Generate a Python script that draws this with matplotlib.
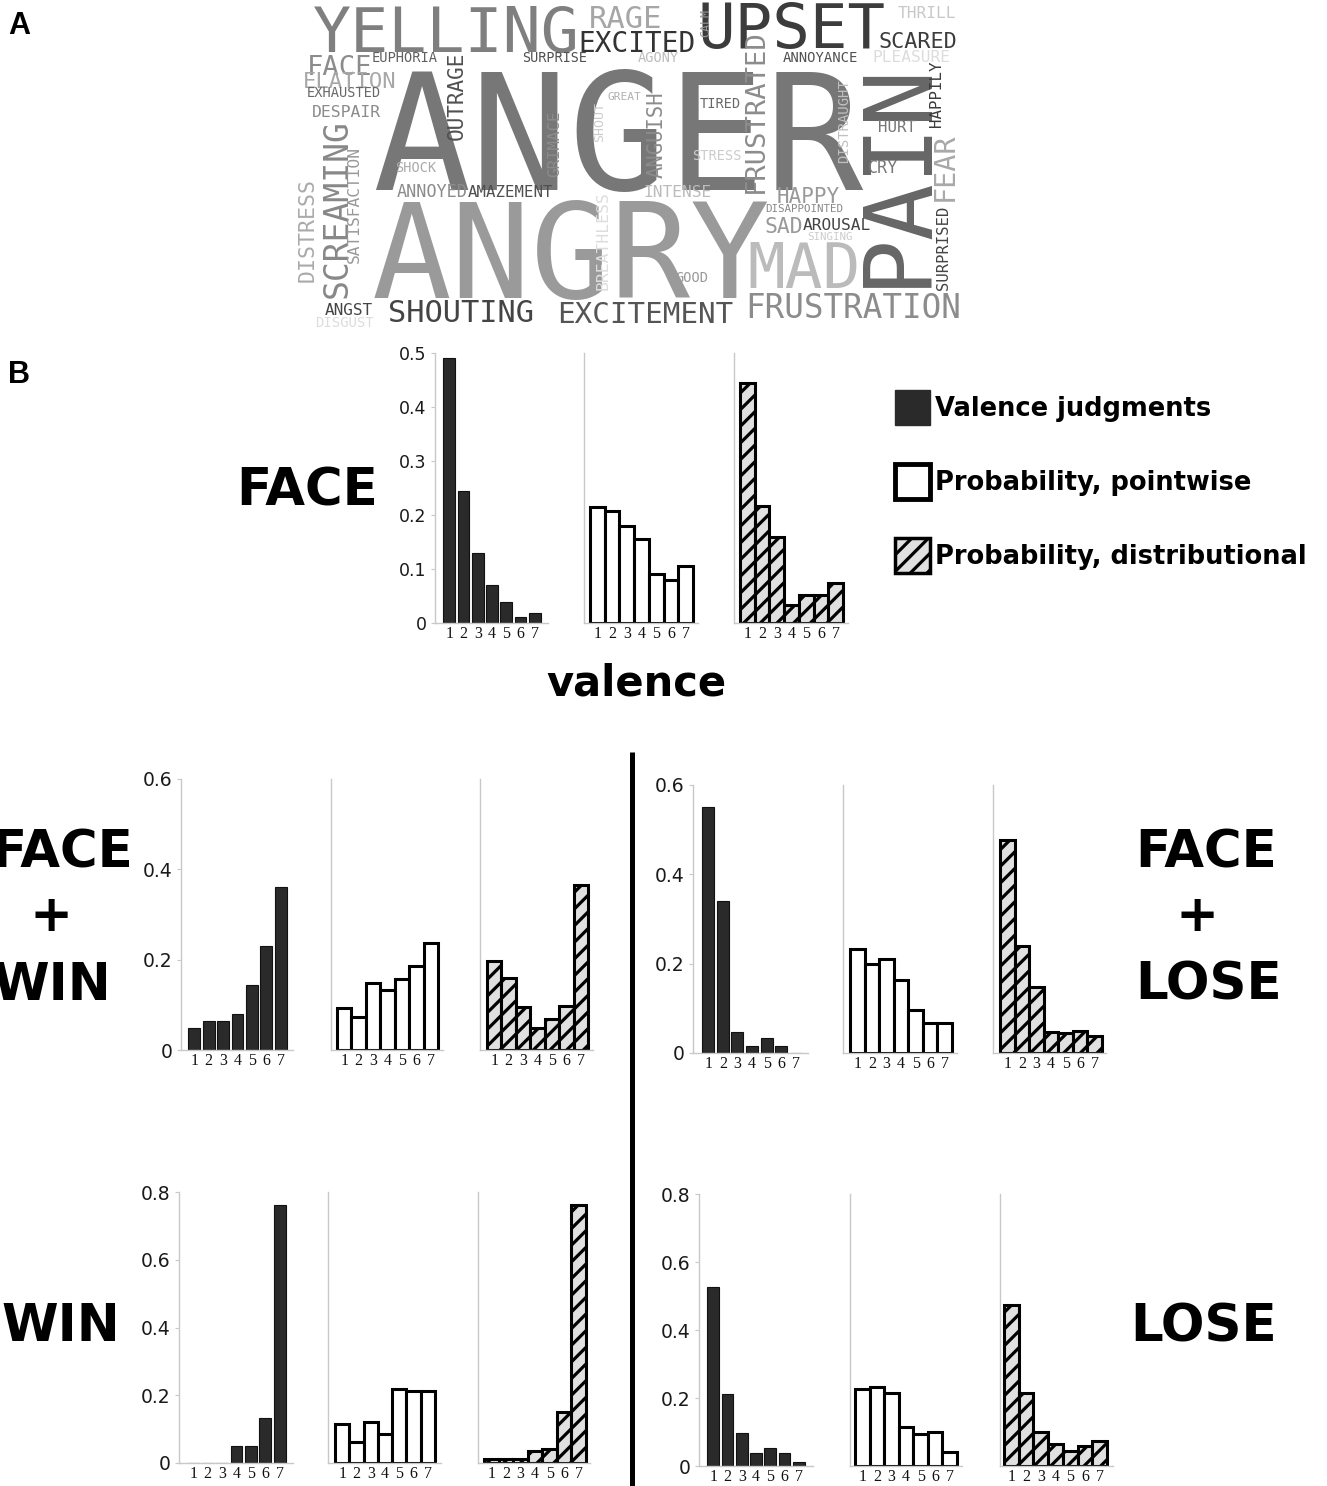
import numpy as np
import matplotlib
matplotlib.use('Agg')
import matplotlib.pyplot as plt
from matplotlib.patches import Patch

# ---- data -------------------------------------------------------------
VALENCE = [1, 2, 3, 4, 5, 6, 7]

FACE_JUDG = [0.490, 0.244, 0.130, 0.070, 0.038, 0.012, 0.018]
FACE_POINT = [0.215, 0.207, 0.179, 0.156, 0.090, 0.079, 0.106]
FACE_DIST = [0.444, 0.216, 0.160, 0.034, 0.051, 0.051, 0.074]

FW_JUDG = [0.048, 0.064, 0.064, 0.080, 0.145, 0.230, 0.360]
FW_POINT = [0.092, 0.074, 0.148, 0.133, 0.157, 0.185, 0.238]
FW_DIST = [0.196, 0.159, 0.096, 0.049, 0.069, 0.098, 0.365]

FL_JUDG = [0.550, 0.341, 0.048, 0.016, 0.033, 0.016, 0.0]
FL_POINT = [0.233, 0.200, 0.211, 0.163, 0.097, 0.067, 0.067]
FL_DIST = [0.476, 0.239, 0.148, 0.046, 0.045, 0.050, 0.039]

WIN_JUDG = [0.0, 0.0, 0.0, 0.049, 0.049, 0.134, 0.763]
WIN_POINT = [0.116, 0.062, 0.121, 0.087, 0.218, 0.212, 0.212]
WIN_DIST = [0.013, 0.013, 0.013, 0.035, 0.042, 0.151, 0.763]

LOSE_JUDG = [0.526, 0.211, 0.097, 0.039, 0.054, 0.039, 0.012]
LOSE_POINT = [0.226, 0.231, 0.216, 0.115, 0.093, 0.100, 0.041]
LOSE_DIST = [0.474, 0.216, 0.100, 0.064, 0.044, 0.058, 0.073]

SERIES_NAMES = ['Valence judgments', 'Probability, pointwise',
                'Probability, distributional']

# word cloud words
WORDS = ['YELLING', 'RAGE', 'UPSET', 'THRILL', 'EXCITED', 'CALM', 'SCARED',
         'FACE', 'EUPHORIA', 'SURPRISE', 'AGONY', 'ANNOYANCE', 'PLEASURE',
         'ELATION', 'EXHAUSTED', 'ANGER', 'OUTRAGE', 'GREAT', 'SHOUT',
         'ANGUISH', 'TIRED', 'FRUSTRATED', 'DISTRAUGHT', 'PAIN', 'HURT',
         'HAPPILY', 'CRY', 'FEAR', 'DESPAIR', 'SCREAMING', 'SATISFACTION',
         'DISTRESS', 'SHOCK', 'GRIMACE', 'STRESS', 'ANNOYED', 'AMAZEMENT',
         'INTENSE', 'ANGRY', 'BREATHLESS', 'HAPPY', 'DISAPPOINTED', 'SAD',
         'AROUSAL', 'SINGING', 'SURPRISED', 'MAD', 'GOOD', 'ANGST', 'DISGUST',
         'SHOUTING', 'EXCITEMENT', 'FRUSTRATION']

# ---- layout (pixels of the 1327x1486 canvas) --------------------------
W, H = 1327, 1486
DPI = 100

# word boxes: x0, y0, x1, y1, vertical?
CLOUD_BOXES = [
    (313, 2, 575, 52, 0), (589, 7, 660, 28, 0), (697, 3, 880, 48, 0),
    (898, 7, 955, 18, 0), (578, 30, 693, 52, 0), (705, 10, 713, 37, 1),
    (878, 33, 955, 48, 0), (307, 52, 370, 75, 0), (372, 50, 437, 62, 0),
    (522, 50, 586, 62, 0), (638, 50, 678, 62, 0), (783, 49, 857, 62, 0),
    (873, 49, 950, 62, 0), (303, 72, 395, 88, 0), (307, 87, 380, 97, 0),
    (372, 67, 850, 190, 0), (450, 53, 467, 140, 1), (607, 92, 640, 100, 0),
    (596, 103, 607, 142, 1), (650, 93, 667, 178, 1), (700, 97, 740, 108, 0),
    (745, 32, 767, 193, 1), (843, 80, 852, 163, 1), (860, 67, 928, 287, 1),
    (878, 120, 915, 132, 0), (933, 62, 945, 127, 1), (868, 160, 897, 173, 0),
    (936, 135, 957, 201, 1), (312, 105, 380, 117, 0), (326, 122, 351, 298, 1),
    (352, 147, 363, 263, 1), (305, 180, 318, 282, 1), (395, 162, 435, 172, 0),
    (550, 112, 563, 177, 1), (692, 149, 740, 160, 0), (397, 187, 467, 197, 0),
    (468, 186, 552, 197, 0), (643, 185, 710, 197, 0), (372, 205, 760, 298, 0),
    (598, 193, 612, 290, 1), (777, 185, 838, 203, 0), (765, 203, 843, 212, 0),
    (765, 218, 802, 233, 0), (803, 218, 870, 230, 0), (807, 233, 852, 240, 0),
    (938, 207, 952, 290, 1), (747, 247, 855, 288, 0), (675, 270, 707, 282, 0),
    (325, 302, 372, 315, 0), (315, 315, 373, 327, 0), (388, 300, 532, 322, 0),
    (557, 300, 731, 323, 0), (745, 293, 958, 318, 0),
]
CLOUD_GRAYS = [
    '#7f7f7f', '#a6a6a6', '#3c3c3c', '#c8c8c8', '#333333', '#999999',
    '#3c3c3c', '#8c8c8c', '#606060', '#505050', '#bdbdbd', '#505050',
    '#dddddd', '#a8a8a8', '#686868', '#777777', '#505050', '#b0b0b0',
    '#cccccc', '#8c8c8c', '#686868', '#8c8c8c', '#c0c0c0', '#666666',
    '#777777', '#3c3c3c', '#777777', '#a8a8a8', '#8c8c8c', '#888888',
    '#999999', '#aaaaaa', '#aaaaaa', '#8c8c8c', '#cccccc', '#8c8c8c',
    '#505050', '#bbbbbb', '#9a9a9a', '#dddddd', '#999999', '#888888',
    '#999999', '#444444', '#cccccc', '#444444', '#bbbbbb', '#999999',
    '#444444', '#dddddd', '#444444', '#555555', '#8c8c8c',
]

# rows of bar panels: zero line y, top y, top value, tick step,
# and per panel (axis x, bars start, bars end, axis end)
ROWS = [
    dict(data=(FACE_JUDG, FACE_POINT, FACE_DIST), y0=623, ytop=353, ymax=0.5,
         step=0.1, ysize=12.5,
         panels=[(435, 442, 542, 548), (584, 590, 693, 698), (734, 740, 843, 848)]),
    dict(data=(FW_JUDG, FW_POINT, FW_DIST), y0=1050, ytop=779, ymax=0.6,
         step=0.2, ysize=13.5,
         panels=[(181, 187, 288, 293), (331, 337, 438, 443), (480, 487, 588, 593)]),
    dict(data=(FL_JUDG, FL_POINT, FL_DIST), y0=1053, ytop=785, ymax=0.6,
         step=0.2, ysize=13.5,
         panels=[(693, 701, 803, 808), (843, 850, 952, 957), (993, 1000, 1102, 1106)]),
    dict(data=(WIN_JUDG, WIN_POINT, WIN_DIST), y0=1463, ytop=1192, ymax=0.8,
         step=0.2, ysize=13.5,
         panels=[(179, 186, 287, 293), (328, 335, 435, 441), (478, 484, 586, 590)]),
    dict(data=(LOSE_JUDG, LOSE_POINT, LOSE_DIST), y0=1466, ytop=1194, ymax=0.8,
         step=0.2, ysize=13.5,
         panels=[(699, 706, 806, 813), (850, 855, 957, 962), (1000, 1004, 1107, 1113)]),
]

STYLES = [
    dict(width=0.82, color='#2a2a2a', edgecolor='#111111', linewidth=0.8),
    dict(width=1.0, color='white', edgecolor='black', linewidth=2.2),
    dict(width=1.0, color='#e0e0e0', edgecolor='black', linewidth=2.2, hatch='//'),
]

AXIS_GRAY = '#c8c8c8'

plt.rcParams['hatch.linewidth'] = 2.3

fig = plt.figure(figsize=(W / DPI, H / DPI), dpi=DPI)
fig.patch.set_facecolor('white')

# overlay in pixel coordinates for the word cloud and labels
ov = fig.add_axes([0, 0, 1, 1])
ov.set_xlim(0, W)
ov.set_ylim(H, 0)
ov.axis('off')

# ---- A: word cloud ----------------------------------------------------
for word, (x0, y0, x1, y1, vert), gray in zip(WORDS, CLOUD_BOXES, CLOUD_GRAYS):
    n = len(word)
    if vert:
        em = (y1 - y0) / (0.602 * n - 0.08)
        ov.text(x1 - 4, y1, word, rotation=90, rotation_mode='anchor',
                ha='left', va='baseline', family='DejaVu Sans Mono',
                fontsize=em * 72 / DPI, color=gray)
    else:
        em = (x1 - x0) / (0.602 * n - 0.08)
        ov.text(x0, y1, word, ha='left', va='baseline',
                family='DejaVu Sans Mono', fontsize=em * 72 / DPI, color=gray)

ov.text(8, 34, 'A', fontsize=22, fontweight='bold', family='Liberation Sans',
        ha='left', va='baseline')
ov.text(8, 383, 'B', fontsize=22, fontweight='bold', family='Liberation Sans',
        ha='left', va='baseline')


# ---- B: bar panels ----------------------------------------------------
def bar_panel(box, y0, ytop, ymax, vals, style, yticks=None, ysize=13):
    xa, xs, xe, xr = box
    pitch = (xe - xs) / 7.0
    ax = fig.add_axes([xa / W, 1 - y0 / H, (xr - xa) / W, (y0 - ytop) / H])
    ax.patch.set_alpha(0)
    ax.bar(VALENCE, vals, **style)
    ax.set_xlim(0.5 - (xs - xa) / pitch, 7.5 + (xr - xe) / pitch)
    ax.set_ylim(0, ymax)
    for s in ['top', 'right']:
        ax.spines[s].set_visible(False)
    for s in ['left', 'bottom']:
        ax.spines[s].set_color(AXIS_GRAY)
        ax.spines[s].set_linewidth(1.0)
    ax.set_xticks(VALENCE)
    ax.set_xticklabels([str(v) for v in VALENCE], family='Liberation Serif',
                       fontsize=11.5, color='#111111')
    ax.tick_params(axis='x', length=0, pad=2)
    if yticks is not None:
        ax.set_yticks(yticks)
        ax.set_yticklabels(['0' if t == 0 else '%.1f' % t for t in yticks],
                           family='DejaVu Sans', fontsize=ysize, color='#1a1a1a')
        ax.tick_params(axis='y', length=3, width=0.8, color=AXIS_GRAY, pad=3)
    else:
        ax.set_yticks([])
    return ax


for row in ROWS:
    ticks = list(np.round(np.arange(0, row['ymax'] + 1e-9, row['step']), 2))
    for i, (box, vals, style) in enumerate(zip(row['panels'], row['data'], STYLES)):
        bar_panel(box, row['y0'], row['ytop'], row['ymax'], vals, style,
                  yticks=ticks if i == 0 else None, ysize=row['ysize'])

# legend
handles = [Patch(facecolor='#2a2a2a', edgecolor='#2a2a2a', linewidth=1.0),
           Patch(facecolor='white', edgecolor='black', linewidth=3.5),
           Patch(facecolor='#e0e0e0', edgecolor='black', linewidth=2.5, hatch='//')]
fig.legend(handles, SERIES_NAMES, loc='upper left',
           bbox_to_anchor=(895 / W, 1 - 390 / H), frameon=False,
           prop={'family': 'DejaVu Sans', 'weight': 'bold', 'size': 18.5},
           handlelength=1.35, handleheight=1.74, labelspacing=1.5,
           handletextpad=0.2, borderpad=0, borderaxespad=0)

# condition labels
big = dict(family='DejaVu Sans', fontweight='bold', fontsize=37, ha='center')
ov.text(307, 506, 'FACE', va='baseline', **big)
ov.text(636, 696, 'valence', va='baseline', family='DejaVu Sans',
        fontweight='bold', fontsize=30, ha='center')

ov.text(62, 867, 'FACE', va='baseline', **big)
ov.text(51, 917, '+', va='center', **big)
ov.text(52, 1000, 'WIN', va='baseline', **big)

ov.text(1206, 867, 'FACE', va='baseline', **big)
ov.text(1197, 917, '+', va='center', **big)
ov.text(1209, 1000, 'LOSE', va='baseline', **big)

ov.text(61, 1341, 'WIN', va='baseline', **big)
ov.text(1204, 1341, 'LOSE', va='baseline', **big)

# separator between WIN and LOSE columns
ov.plot([632, 632], [752, H], color='black', linewidth=3.6, solid_capstyle='butt')

fig.savefig('out.png', dpi=DPI)
